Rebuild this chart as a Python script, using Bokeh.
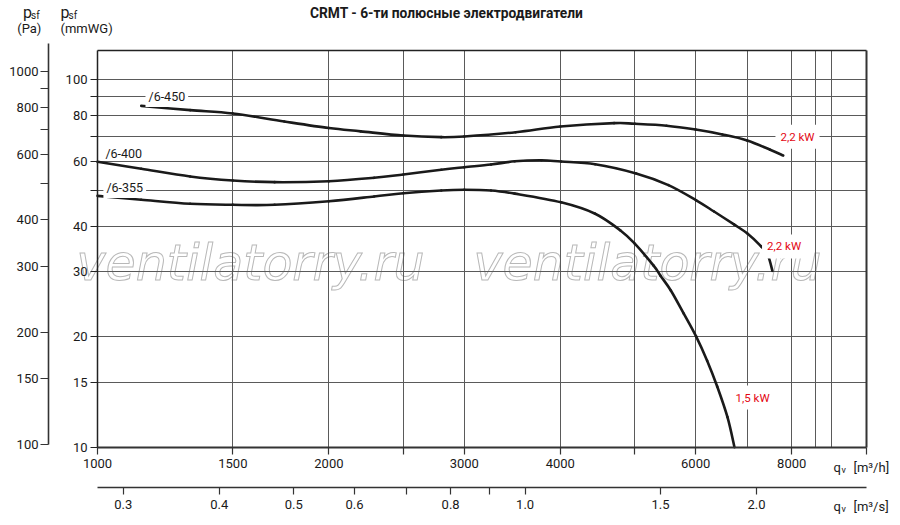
import math
from bokeh.plotting import figure
from bokeh.models import (LogAxis, FixedTicker, PrintfTickFormatter, Range1d,
                          LogScale, Grid, Label)
from bokeh.embed import file_html
from bokeh.resources import INLINE

# ---------------- data ----------------
Q_450 = [1140, 1320, 1500, 1750, 2000, 2200, 2500, 2800, 3000, 3500, 4000,
         4700, 5000, 5500, 6000, 6500, 7000, 7500, 7800]
P_450 = [84.9, 82.7, 81.0, 77.0, 73.9, 72.4, 70.5, 69.8, 70.1, 72.0, 74.6,
         76.2, 75.9, 75.0, 73.2, 71.0, 68.4, 64.5, 62.2]

Q_400 = [1000, 1140, 1320, 1500, 1700, 2000, 2290, 2500, 2800, 3000, 3250,
         3490, 3780, 4010, 4440, 5020, 5530, 6010, 6340, 6730, 7000, 7300,
         7450, 7550]
P_400 = [59.8, 57.25, 54.55, 53.2, 52.65, 52.97, 54.1, 55.25, 56.9, 57.8, 58.8,
         60.0, 60.4, 59.9, 58.9, 55.6, 51.7, 47.0, 43.8, 40.4, 38.2, 35.2,
         33.3, 30.2]

Q_355 = [1000, 1140, 1320, 1500, 1700, 2000, 2290, 2500, 2800, 3000, 3250,
         3490, 4010, 4440, 4790, 5000, 5290, 5400, 5570, 5790, 6010, 6210,
         6400, 6600, 6740]
P_355 = [48.3, 47.15, 45.97, 45.68, 45.68, 46.73, 48.13, 49.13, 49.97, 50.19, 49.97,
         49.0, 46.4, 43.2, 38.9, 35.8, 31.2, 29.3, 26.7, 23.1, 20.0, 17.2,
         14.63, 12.07, 10.0]

CURVE_NAMES = ["/6-450", "/6-400", "/6-355"]
POWER_LABELS = ["2,2 kW", "2,2 kW", "1,5 kW"]

MM_TICKS = [10, 15, 20, 30, 40, 60, 80, 100]
MM_MINOR = [50, 70, 90]
PA_TICKS = [100, 150, 200, 300, 400, 600, 800, 1000]
PA_MINOR = [500, 700, 900]
QH_TICKS = [1000, 1500, 2000, 3000, 4000, 6000, 8000]
QH_MINOR = [2500, 5000, 10000]
QS_TICKS = [0.3, 0.4, 0.5, 0.6, 0.8, 1.0, 1.5, 2.0]
QS_MINOR = [0.7, 0.9]
X_GRID = [1500, 2000, 2500, 3000, 4000, 5000, 6000, 7000, 8000, 8600, 9000]
Y_GRID = [15, 20, 30, 40, 50, 60, 70, 80, 90, 100]
Q_MIN, Q_MAX = 1000, 10000
MM_MIN, MM_MAX = 10, 120
S_PER_H = 3600.0

TITLE = "CRMT  -  6-ти полюсные электродвигатели"
WATERMARK = "ventilatorry.ru"

# ---------------- layout ----------------
W, H = 900, 525
X0_PX, X_DEC = 97.0, 768.7     # canvas x of 1000 m3/h, px per decade
Y0_PX, Y_DEC = 446.7, 367.4    # canvas y of 10 mmWG, px per decade
PA0_PX, PA_DEC = 444.0, 373.0  # canvas y of 100 Pa on the Pa scale, px per decade


def qx(px):
    return 1000 * 10 ** ((px - X0_PX) / X_DEC)


def my(py):
    return 10 * 10 ** ((Y0_PX - py) / Y_DEC)


def pa(py):
    return 100 * 10 ** ((PA0_PX - py) / PA_DEC)


FONT = "Roboto"
INK = "#1a1a1a"
GRID_C = "#5a5a5a"
RED = "#e30613"

p = figure(width=W, height=H, x_axis_type="log", y_axis_type="log",
           x_range=Range1d(qx(0), qx(W)), y_range=Range1d(my(H), my(0)),
           x_axis_location=None, y_axis_location=None,
           toolbar_location=None, output_backend="svg",
           min_border=0, min_border_left=0, min_border_right=0,
           min_border_top=0, min_border_bottom=0,
           background_fill_color="white", border_fill_color="white",
           outline_line_color=None)
p.grid.visible = False

p.extra_y_ranges = {"pa": Range1d(pa(H), pa(0))}
p.extra_y_scales = {"pa": LogScale()}
p.extra_x_ranges = {"ms": Range1d(qx(0) / S_PER_H, qx(W) / S_PER_H)}
p.extra_x_scales = {"ms": LogScale()}

# ---------------- watermark (under the grid) ----------------
for wx in (76, 473):
    p.add_layout(Label(x=wx, y=H - 263, x_units="screen", y_units="screen",
                       text=WATERMARK, text_font="DejaVu Sans",
                       text_font_style="italic", text_font_size="49px",
                       text_color="white", text_outline_color="#b8b8b8",
                       text_baseline="alphabetic", text_align="left",
                       level="underlay"))

xg = Grid(dimension=0, ticker=FixedTicker(ticks=X_GRID),
          cross_bounds=(MM_MIN, MM_MAX), grid_line_color=GRID_C, grid_line_width=1)
yg = Grid(dimension=1, ticker=FixedTicker(ticks=Y_GRID),
          cross_bounds=(Q_MIN, Q_MAX), grid_line_color=GRID_C, grid_line_width=1)
p.add_layout(xg, "center")
p.add_layout(yg, "center")


def style(ax, tick=7, standoff=3, lw=1.5, color="#222222"):
    ax.major_tick_in = 0
    ax.minor_tick_in = 0
    ax.major_tick_out = tick
    ax.minor_tick_out = tick
    ax.major_tick_line_color = color
    ax.minor_tick_line_color = color
    ax.major_tick_line_width = 1.2
    ax.minor_tick_line_width = 1.2
    ax.axis_line_color = color
    ax.axis_line_width = lw
    ax.major_label_standoff = standoff
    ax.major_label_text_font = FONT
    ax.major_label_text_font_size = "13px"
    ax.major_label_text_color = INK
    return ax


ax_mm = style(LogAxis(fixed_location=Q_MIN, bounds=(MM_MIN, MM_MAX),
                      ticker=FixedTicker(ticks=MM_TICKS, minor_ticks=MM_MINOR),
                      formatter=PrintfTickFormatter(format="%d")), 7, 3)
p.add_layout(ax_mm, "left")

ax_pa = style(LogAxis(y_range_name="pa", fixed_location=qx(48),
                      bounds=(PA_TICKS[0], pa(42.7)),
                      ticker=FixedTicker(ticks=PA_TICKS, minor_ticks=PA_MINOR),
                      formatter=PrintfTickFormatter(format="%d")), 8, 2, 1.6, "#333333")
p.add_layout(ax_pa, "left")

ax_qh = style(LogAxis(fixed_location=MM_MIN, bounds=(Q_MIN, Q_MAX),
                      ticker=FixedTicker(ticks=QH_TICKS, minor_ticks=QH_MINOR),
                      formatter=PrintfTickFormatter(format="%d")), 7, 5, 2.0, "#333333")
p.add_layout(ax_qh, "below")

ax_qs = style(LogAxis(x_range_name="ms", fixed_location=my(487),
                      bounds=(Q_MIN / S_PER_H, Q_MAX / S_PER_H),
                      ticker=FixedTicker(ticks=QS_TICKS, minor_ticks=QS_MINOR),
                      formatter=PrintfTickFormatter(format="%.1f")), 7, 5, 1.6, "#333333")
p.add_layout(ax_qs, "below")

ax_top = style(LogAxis(fixed_location=MM_MAX, bounds=(Q_MIN, Q_MAX),
                       ticker=FixedTicker(ticks=[])), 0, 0, 1.5, "#222222")
ax_top.major_label_text_font_size = "0px"
p.add_layout(ax_top, "above")

ax_right = style(LogAxis(fixed_location=Q_MAX, bounds=(MM_MIN, MM_MAX),
                         ticker=FixedTicker(ticks=[])), 0, 0, 2.0, "#333333")
ax_right.major_label_text_font_size = "0px"
p.add_layout(ax_right, "right")


# ---------------- curves (smooth Catmull-Rom through the read points) ----------------
def bezier_through(xs, ys):
    lx = [math.log10(v) for v in xs]
    ly = [math.log10(v) for v in ys]
    n = len(xs)
    seg = {k: [] for k in ("x0", "y0", "x1", "y1", "cx0", "cy0", "cx1", "cy1")}
    for i in range(n - 1):
        a, b = max(i - 1, 0), min(i + 2, n - 1)
        seg["x0"].append(xs[i])
        seg["y0"].append(ys[i])
        seg["x1"].append(xs[i + 1])
        seg["y1"].append(ys[i + 1])
        seg["cx0"].append(10 ** (lx[i] + (lx[i + 1] - lx[a]) / 6))
        seg["cy0"].append(10 ** (ly[i] + (ly[i + 1] - ly[a]) / 6))
        seg["cx1"].append(10 ** (lx[i + 1] - (lx[b] - lx[i]) / 6))
        seg["cy1"].append(10 ** (ly[i + 1] - (ly[b] - ly[i]) / 6))
    return seg


for qs, ps in ((Q_450, P_450), (Q_400, P_400), (Q_355, P_355)):
    p.bezier(line_width=2.6, line_color=INK, line_cap="round", **bezier_through(qs, ps))

# curve names
name_pos = [(1165, 90.0, True), (1024, 63.0, False), (1027, 50.9, True)]
for txt, (lx, ly, bg) in zip(CURVE_NAMES, name_pos):
    p.add_layout(Label(x=lx, y=ly, text=txt, text_font=FONT, text_font_size="12.5px",
                       text_color=INK, text_baseline="middle", text_align="left",
                       background_fill_color="white" if bg else None,
                       padding=3, x_offset=-3))

# motor power labels
pow_pos = [(7735, 70.0), (7430, 35.2), (6761, 13.65)]
for txt, (lx, ly) in zip(POWER_LABELS, pow_pos):
    p.add_layout(Label(x=lx, y=ly, text=txt, text_font=FONT, text_font_size="11.5px",
                       text_color=RED, text_baseline="middle", text_align="left",
                       background_fill_color="white", padding=5, x_offset=-5))


# ---------------- header texts ----------------
def scr(x, y, text, size, style="normal", align="left"):
    p.add_layout(Label(x=x, y=H - y, x_units="screen", y_units="screen", text=text,
                       text_font=FONT, text_font_size=size, text_font_style=style,
                       text_color=INK, text_align=align, text_baseline="alphabetic"))


scr(449.5, 12.9, TITLE, "13.8px", "bold", "center")
scr(22.5, 12.0, "p", "16px")
scr(30.5, 15.0, "sf", "10px")
scr(16.7, 28.0, "(Pa)", "13px")
scr(60.0, 12.0, "p", "16px")
scr(68.0, 15.0, "sf", "10px")
scr(60.0, 28.0, "(mmWG)", "13px")

for base in (467.0, 506.0):
    scr(833.0, base, "q", "13px")
    scr(841.0, base + 2.5, "v", "9px")
scr(853.0, 467.0, "[m³/h]", "13px")
scr(853.0, 506.0, "[m³/s]", "13px")

open("out.html", "w").write(file_html(p, INLINE))
